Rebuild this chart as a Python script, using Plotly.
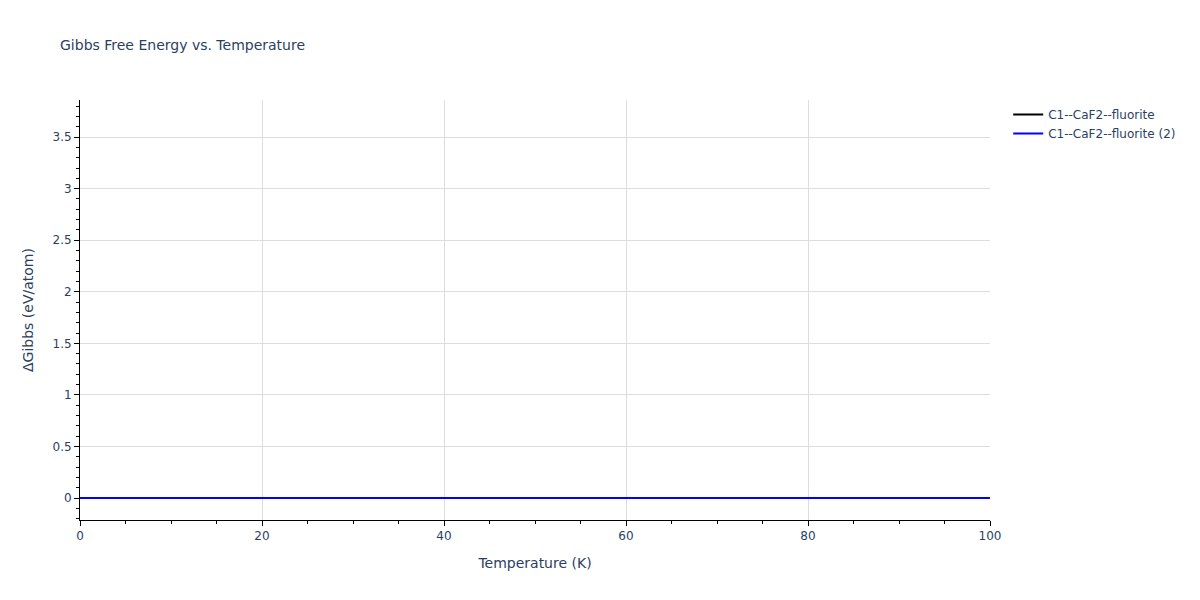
import plotly.graph_objects as go

temperature = [0, 10, 20, 30, 40, 50, 60, 70, 80, 90, 100]
gibbs_fluorite = [0, 0, 0, 0, 0, 0, 0, 0, 0, 0, 0]
gibbs_fluorite_2 = [0, 0, 0, 0, 0, 0, 0, 0, 0, 0, 0]

fig = go.Figure()
fig.add_trace(go.Scatter(x=temperature, y=gibbs_fluorite, mode="lines",
                         name="C1--CaF2--fluorite", line=dict(color="black", width=2)))
fig.add_trace(go.Scatter(x=temperature, y=gibbs_fluorite_2, mode="lines",
                         name="C1--CaF2--fluorite (2)", line=dict(color="blue", width=2)))

fig.update_layout(
    template="plotly_white",
    title=dict(text="Gibbs Free Energy vs. Temperature", font=dict(size=14)),
    width=1200, height=600,
    margin=dict(l=80, r=210, t=100, b=80),
    legend=dict(x=1.02, y=1, xanchor="left", yanchor="top"),
    font=dict(family="DejaVu Sans, Verdana, sans-serif"),
)
fig.update_xaxes(title_text="Temperature (K)", range=[0, 100], dtick=20,
                 showline=True, linecolor="black", ticks="outside", tickcolor="black",
                 zeroline=False, showgrid=True, gridcolor="#dddddd",
                 minor=dict(dtick=5, ticks="outside", tickcolor="black", showgrid=False))
fig.update_yaxes(title_text="ΔGibbs (eV/atom)", range=[-0.213, 3.86], dtick=0.5,
                 showline=True, linecolor="black", ticks="outside", tickcolor="black",
                 zeroline=False, showgrid=True, gridcolor="#dddddd",
                 minor=dict(dtick=0.1, ticks="outside", tickcolor="black", showgrid=False))

# drop the browser's default page margin so the figure sits at the corner
fig.write_html("out.html", config={"displayModeBar": False},
               post_script="document.body.style.margin = '0';")
